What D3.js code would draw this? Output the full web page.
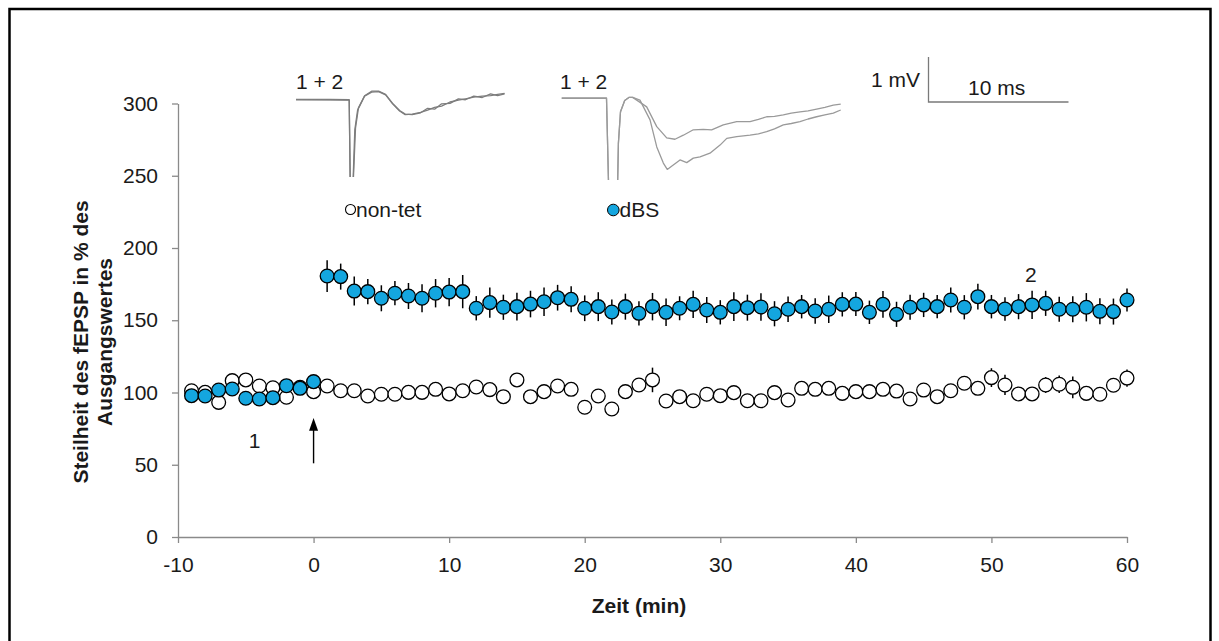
<!DOCTYPE html>
<html>
<head>
<meta charset="utf-8">
<script src="https://cdn.jsdelivr.net/npm/d3@7"></script>
<style>
  html, body { margin: 0; padding: 0; background: #fff; }
  svg { display: block; font-family: "Liberation Sans", Arial, sans-serif; }
</style>
</head>
<body>
<svg id="chart" width="1219" height="641"></svg>
<script>
// ---- data ----
const minutes = d3.range(-9, 61);

const dbsMean = [
  97.8, 97.6, 101.7, 102.4, 96.0, 95.5, 96.4, 104.7, 102.9, 107.5,
  180.6, 180.2, 170.2, 169.8, 165.2, 168.7, 166.8, 165.2, 168.7, 169.5,
  169.8, 158.3, 162.2, 159.0, 159.4, 161.2, 162.8, 165.6, 164.5, 158.3,
  159.4, 155.7, 159.4, 154.8, 159.4, 155.5, 158.3, 161.0, 157.1, 155.5,
  159.4, 158.7, 159.2, 154.5, 157.6, 159.4, 156.4, 157.6, 161.0, 161.2,
  155.5, 161.0, 154.1, 159.0, 160.6, 159.4, 164.0, 159.0, 166.3, 159.4,
  157.8, 159.4, 160.6, 161.7, 157.6, 157.6, 159.0, 156.2, 156.0, 164.0
];
const dbsSem = [
  3, 3, 3, 3, 3, 3, 3, 3, 3, 3,
  11, 9, 10, 8.7, 9, 8.4, 9, 9.7, 9.8, 9.8,
  11.5, 8.4, 10.4, 8.7, 9.6, 9.2, 9.8, 8.9, 9, 8.9,
  10, 8.7, 9, 8.4, 9.5, 9.5, 8.3, 9.5, 9, 8.4,
  10, 9, 9.5, 8.7, 8.8, 8.1, 8.9, 9.5, 8.4, 8.3,
  8.1, 9.2, 8.7, 8.7, 8.4, 8.1, 8.7, 8.4, 8.9, 8.1,
  8.1, 8.7, 9.8, 8.7, 8.7, 9, 9.8, 9, 9, 8
];
const nontetMean = [
  101.2, 100.1, 93.2, 108.2, 108.7, 104.5, 103.3, 96.7, 103.6, 100.6,
  104.5, 101.2, 101.2, 97.6, 98.8, 98.8, 100.1, 100.1, 102.2, 99.0,
  101.2, 103.8, 102.0, 97.1, 108.7, 97.1, 100.6, 104.5, 102.2, 89.8,
  97.6, 88.6, 100.6, 105.2, 108.7, 94.1, 97.1, 94.3, 98.8, 97.8,
  99.9, 94.3, 94.3, 99.9, 94.8, 102.9, 102.2, 102.9, 99.4, 100.6,
  100.6, 102.2, 101.0, 95.5, 101.7, 97.1, 101.2, 106.4, 102.9, 110.3,
  105.2, 99.0, 99.0, 105.2, 105.7, 103.6, 99.4, 98.8, 105.0, 110.0
];
const nontetSem = [
  3, 3, 3, 3, 3, 3, 3, 3, 3, 3,
  3, 3, 3, 3, 3, 3, 3, 3, 3, 3,
  3, 3, 3, 3, 3, 3, 3, 3, 3, 3,
  3, 3, 3, 3, 8.5, 3, 3, 3, 3, 3,
  3, 3, 3, 3, 3, 3, 3, 3, 3, 3,
  3, 3, 3, 3, 3, 3, 3, 3, 3, 6.5,
  7, 3, 3, 5.5, 6, 7.5, 3, 3, 3, 6
];

const xTicks = [-10, 0, 10, 20, 30, 40, 50, 60];
const yTicks = [0, 50, 100, 150, 200, 250, 300];

// Example sweeps (time in ms, potential in mV); 1 = baseline, 2 = 60 min later
const nontetSweep1 = [
  [0, 0], [2.4, 0], [3.8, -0.01], [3.9, -2.5], [4.0, -2.5], [4.2, -0.68], [4.4, -0.24],
  [4.9, 0.07], [5.4, 0.16], [5.9, 0.17], [6.4, 0.10], [6.9, -0.10], [7.4, -0.26],
  [7.8, -0.34], [8.3, -0.33], [8.9, -0.29], [9.4, -0.24], [9.9, -0.18], [10.4, -0.15],
  [11.0, -0.06], [11.6, -0.02], [12.1, 0.01], [12.7, 0.05], [13.3, 0.07], [13.9, 0.08],
  [14.4, 0.11], [14.9, 0.13]
];
const nontetSweep2 = [
  [0, -0.01], [3.8, -0.02], [3.9, -2.5], [4.0, -2.5], [4.25, -0.64], [4.46, -0.19],
  [4.9, 0.08], [5.4, 0.18], [5.9, 0.18], [6.4, 0.11], [6.9, -0.09], [7.4, -0.25],
  [7.8, -0.33], [8.3, -0.34], [8.9, -0.30], [9.4, -0.20], [9.9, -0.22], [10.4, -0.10],
  [11.0, -0.09], [11.6, 0.01], [12.1, -0.01], [12.7, 0.07], [13.3, 0.04], [13.9, 0.12],
  [14.4, 0.08], [14.9, 0.12]
];
const dbsSweep1 = [
  [0, 0], [3.2, 0], [3.4, -2.6], [3.95, -2.6], [4.05, -1.0], [4.2, -0.3], [4.5, -0.05],
  [4.8, 0.02], [5.07, 0.02], [6.07, -0.19], [6.79, -0.63], [7.5, -0.88], [8.09, -0.91],
  [8.69, -0.82], [9.4, -0.70], [10.11, -0.69], [10.71, -0.70], [11.54, -0.59],
  [12.5, -0.52], [13.45, -0.52], [14.05, -0.47], [14.64, -0.41], [15.2, -0.40],
  [15.83, -0.37], [16.4, -0.33], [17.02, -0.30], [17.6, -0.28], [18.21, -0.24],
  [18.8, -0.20], [19.4, -0.15], [19.93, -0.13]
];
const dbsSweep2 = [
  [0, 0.01], [3.2, 0.01], [3.4, -2.6], [3.95, -2.6], [4.05, -1.0], [4.2, -0.3], [4.5, -0.05],
  [4.8, 0.02], [5.07, 0.02], [5.59, -0.04], [6.31, -0.48], [6.79, -1.08], [7.26, -1.44],
  [7.54, -1.58], [7.97, -1.48], [8.45, -1.37], [8.93, -1.43], [9.4, -1.33], [9.88, -1.30],
  [10.59, -1.22], [11.31, -1.04], [11.79, -0.89], [12.5, -0.85], [13.45, -0.82],
  [14.05, -0.79], [14.64, -0.74], [15.2, -0.68], [15.83, -0.59], [16.4, -0.56],
  [17.02, -0.52], [17.6, -0.46], [18.21, -0.41], [18.8, -0.37], [19.4, -0.33], [19.93, -0.26]
];

// ---- layout ----
const svg = d3.select("#chart");
const FS = 21;
const ink = "#1a1a1a";
const axisGrey = "#8a8a8a";
const blue = "#14a6df";

// outer frame
svg.append("rect")
  .attr("x", 9.5).attr("y", 9).attr("width", 1201).attr("height", 700)
  .attr("fill", "none").attr("stroke", "#000").attr("stroke-width", 2.5);

const x = d3.scaleLinear().domain([-10, 60]).range([178, 1127]);
const y = d3.scaleLinear().domain([0, 300]).range([537, 103.5]);

// axes (plain hyphen for negative ticks)
const plain = d => String(d);
const xAxis = svg.append("g")
  .attr("transform", `translate(0,${y(0)})`)
  .call(d3.axisBottom(x).tickValues(xTicks).tickFormat(plain).tickSize(6).tickPadding(14).tickSizeOuter(0));
const yAxis = svg.append("g")
  .attr("transform", `translate(${x(-10)},0)`)
  .call(d3.axisLeft(y).tickValues(yTicks).tickFormat(plain).tickSize(6).tickPadding(14).tickSizeOuter(0));
[xAxis, yAxis].forEach(g => {
  g.select(".domain").attr("stroke", axisGrey).attr("stroke-width", 1.3);
  g.selectAll(".tick line").attr("stroke", axisGrey).attr("stroke-width", 1.3);
  g.selectAll(".tick text").attr("fill", ink)
    .style("font-size", FS + "px").style("font-family", '"Liberation Sans", Arial, sans-serif');
});

// axis titles
svg.append("text")
  .attr("x", 639).attr("y", 613)
  .attr("text-anchor", "middle").attr("font-weight", "bold")
  .attr("font-size", FS).attr("fill", ink)
  .text("Zeit (min)");

const yTitle = ["Steilheit des fEPSP in % des", "Ausgangswertes"];
yTitle.forEach((line, i) => {
  svg.append("text")
    .attr("transform", `translate(${88 + i * 23.5},342) rotate(-90)`)
    .attr("text-anchor", "middle").attr("font-weight", "bold")
    .attr("font-size", FS).attr("fill", ink)
    .text(line);
});

// ---- series ----
const nontet = minutes.map((m, i) => ({ m, v: nontetMean[i], e: nontetSem[i] }));
const dbs = minutes.map((m, i) => ({ m, v: dbsMean[i], e: dbsSem[i] }));
const R = 6.9;

function drawSeries(data, fill) {
  const g = svg.append("g");
  g.selectAll("line.err").data(data).join("line")
    .attr("class", "err")
    .attr("x1", d => x(d.m)).attr("x2", d => x(d.m))
    .attr("y1", d => y(d.v + d.e)).attr("y2", d => y(d.v - d.e))
    .attr("stroke", "#000").attr("stroke-width", 1.5);
  g.selectAll("circle").data(data).join("circle")
    .attr("cx", d => x(d.m)).attr("cy", d => y(d.v)).attr("r", R)
    .attr("fill", fill).attr("stroke", "#000").attr("stroke-width", 1.3);
}
drawSeries(nontet, "#fff");
drawSeries(dbs, blue);

// annotations: sample points and the stimulation arrow
svg.append("text").attr("x", x(-4.35)).attr("y", y(61.6))
  .attr("text-anchor", "middle").attr("font-size", FS).attr("fill", ink).text("1");
svg.append("text").attr("x", x(52.9)).attr("y", y(176.5))
  .attr("text-anchor", "middle").attr("font-size", FS).attr("fill", ink).text("2");

svg.append("line")
  .attr("x1", x(0)).attr("x2", x(0)).attr("y1", y(51)).attr("y2", y(75))
  .attr("stroke", "#000").attr("stroke-width", 1.4);
svg.append("path")
  .attr("d", `M${x(0)},${y(82.4)} L${x(0) - 4.5},${y(73.5)} L${x(0) + 4.5},${y(73.5)} Z`)
  .attr("fill", "#000");

// ---- example sweeps ----
const msPx = 14, mvPx = 45;
function drawSweeps(x0, y0, clipBottom, sweeps, color, id) {
  const sx = d3.scaleLinear().domain([0, 1]).range([x0, x0 + msPx]);
  const sy = d3.scaleLinear().domain([0, 1]).range([y0, y0 - mvPx]);
  svg.append("clipPath").attr("id", id)
    .append("rect").attr("x", x0 - 5).attr("y", 40).attr("width", 320).attr("height", clipBottom - 40);
  const g = svg.append("g").attr("clip-path", `url(#${id})`);
  sweeps.forEach(s => {
    g.append("path").attr("d", d3.line().x(d => sx(d[0])).y(d => sy(d[1]))(s))
      .attr("fill", "none").attr("stroke", color).attr("stroke-width", 1.3)
      .attr("stroke-linejoin", "round");
  });
}
drawSweeps(296, 99.3, 177, [nontetSweep1, nontetSweep2], "#7d7d7d", "clipA");
drawSweeps(561.7, 98.3, 180, [dbsSweep1, dbsSweep2], "#9a9a9a", "clipB");

svg.append("text").attr("x", 296).attr("y", 89).attr("font-size", FS).attr("fill", ink).text("1 + 2");
svg.append("text").attr("x", 560).attr("y", 89).attr("font-size", FS).attr("fill", ink).text("1 + 2");

// scale bar
const barX = d3.scaleLinear().domain([0, 10]).range([928.5, 928.5 + 10 * msPx]);
const barY = d3.scaleLinear().domain([0, 1]).range([102, 102 - mvPx]);
svg.append("path")
  .attr("d", `M${barX(0)},${barY(1)} L${barX(0)},${barY(0)} L${barX(10)},${barY(0)}`)
  .attr("fill", "none").attr("stroke", "#7a7a7a").attr("stroke-width", 1.3);
svg.append("text").attr("x", 920).attr("y", 87).attr("text-anchor", "end")
  .attr("font-size", FS).attr("fill", ink).text("1 mV");
svg.append("text").attr("x", 968).attr("y", 95)
  .attr("font-size", FS).attr("fill", ink).text("10 ms");

// legend
svg.append("circle").attr("cx", 350.5).attr("cy", 209.5).attr("r", 5)
  .attr("fill", "#fff").attr("stroke", "#000").attr("stroke-width", 1.1);
svg.append("text").attr("x", 356).attr("y", 217).attr("font-size", FS).attr("fill", ink).text("non-tet");
svg.append("circle").attr("cx", 613.3).attr("cy", 210).attr("r", 5.8)
  .attr("fill", blue).attr("stroke", "#000").attr("stroke-width", 1);
svg.append("text").attr("x", 619.5).attr("y", 217).attr("font-size", FS).attr("fill", ink).text("dBS");
</script>
</body>
</html>
